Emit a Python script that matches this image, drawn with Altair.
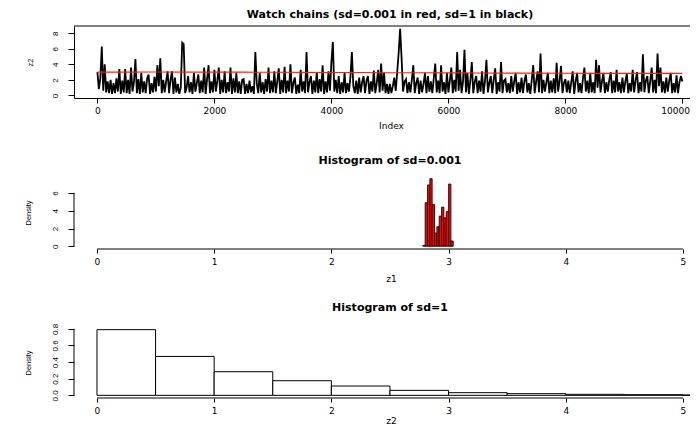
import altair as alt
import pandas as pd

# ---------------- data ----------------
trace_step = 25  # Index spacing of the sampled sd=1 chain values below
trace_z2 = [
    3.0, 0.8, 2.2, 6.3, 0.6, 4.0, 0.4, 1.8, 0.3, 2.0, 0.2, 1.6, 0.3, 2.2, 0.5, 3.4, 0.2, 1.9, 0.4, 3.4,
    0.3, 2.0, 0.2, 3.6, 0.5, 1.7, 4.7, 0.3, 2.1, 0.2, 2.9, 0.4, 1.8, 0.3, 2.2, 2.7, 0.2, 1.6, 0.4, 2.4,
    0.5, 3.9, 1.2, 4.8, 0.3, 2.0, 0.4, 1.8, 3.1, 0.3, 2.0, 3.1, 0.2, 2.3, 0.4, 1.5, 0.2, 1.0, 6.8, 6.6,
    0.3, 1.0, 2.5, 0.4, 1.7, 0.2, 2.9, 0.5, 1.6, 2.7, 0.3, 1.9, 0.4, 3.6, 0.2, 2.1, 3.9, 0.3, 1.8, 0.4,
    3.3, 0.5, 1.9, 3.6, 0.2, 2.0, 0.4, 3.1, 0.3, 1.7, 0.5, 3.6, 0.2, 2.2, 0.4, 2.9, 0.3, 1.8, 0.2, 2.0,
    2.1, 0.2, 1.5, 0.3, 1.9, 0.4, 1.2, 0.2, 5.6, 1.5, 0.3, 2.9, 0.4, 1.7, 0.2, 2.1, 0.5, 3.6, 0.3, 1.9,
    0.4, 3.1, 0.3, 1.8, 3.5, 0.2, 2.0, 0.4, 3.7, 0.3, 1.9, 0.5, 4.0, 0.3, 1.6, 2.3, 0.2, 1.4, 0.3, 3.3,
    0.5, 1.8, 0.3, 5.6, 0.4, 1.7, 2.5, 0.2, 1.9, 0.4, 3.0, 0.3, 2.1, 0.5, 3.9, 0.2, 1.8, 0.4, 3.1, 0.6,
    4.3, 6.9, 0.5, 2.0, 0.3, 2.5, 0.2, 1.7, 0.4, 2.9, 0.3, 1.6, 0.5, 2.4, 5.6, 1.2, 0.3, 1.9, 0.2, 2.3,
    0.4, 1.7, 2.5, 0.3, 1.9, 2.5, 0.2, 1.8, 0.5, 3.2, 0.3, 1.6, 3.3, 0.4, 4.1, 0.6, 2.9, 0.3, 1.5, 0.2,
    1.5, 0.3, 1.2, 2.3, 0.6, 3.0, 5.5, 8.6, 4.8, 0.5, 1.8, 2.1, 0.3, 1.7, 0.4, 2.0, 3.9, 0.3, 1.6, 2.3,
    0.2, 1.9, 0.4, 1.5, 2.9, 0.3, 2.5, 0.5, 1.8, 0.3, 2.2, 4.1, 0.4, 1.9, 0.3, 3.9, 0.5, 1.7, 0.2, 2.9,
    0.4, 1.9, 3.6, 0.3, 2.0, 0.5, 5.6, 0.6, 3.3, 0.3, 1.8, 5.9, 0.4, 2.9, 0.2, 1.9, 4.3, 0.3, 1.7, 2.5,
    0.3, 1.9, 0.5, 3.1, 0.2, 1.8, 4.6, 0.4, 1.6, 2.5, 0.3, 2.0, 3.5, 0.2, 1.7, 0.5, 4.3, 0.3, 1.9, 2.1,
    0.4, 1.6, 0.3, 2.5, 0.5, 1.8, 2.9, 0.2, 1.7, 0.4, 2.3, 0.3, 1.9, 2.7, 0.4, 1.6, 0.2, 2.0, 3.9, 0.3,
    1.8, 3.1, 0.4, 5.4, 0.3, 2.0, 0.5, 1.7, 2.9, 0.3, 1.9, 0.4, 2.2, 0.3, 4.2, 0.5, 1.8, 3.8, 0.3, 1.6,
    2.1, 0.4, 1.9, 0.3, 1.7, 3.1, 0.2, 1.8, 2.9, 0.4, 1.6, 0.3, 2.2, 3.6, 0.5, 1.9, 0.3, 2.9, 0.4, 1.7,
    0.3, 4.6, 1.0, 3.9, 0.4, 1.8, 2.9, 0.3, 1.7, 0.5, 2.0, 3.0, 0.3, 1.9, 0.4, 3.3, 0.5, 1.7, 0.3, 2.3,
    0.4, 1.8, 2.8, 0.3, 1.6, 0.5, 3.3, 0.4, 1.9, 3.0, 0.3, 1.7, 0.5, 5.3, 0.4, 1.9, 2.5, 0.3, 1.8, 3.6,
    0.4, 2.0, 0.3, 5.4, 1.2, 3.6, 0.4, 1.8, 0.3, 2.3, 0.5, 1.9, 2.9, 0.3, 1.6, 0.4, 2.6, 0.3, 1.7, 2.5,
    1.8,
]
red_index = [0, 500, 1000, 1500, 2000, 2500, 3000, 3500, 4000, 4500, 5000,
             5500, 6000, 6500, 7000, 7500, 8000, 8500, 9000, 9500, 10000]
red_z1 = [3.00, 3.01, 3.02, 3.01, 3.00, 3.00, 2.99, 2.97, 2.96, 2.95, 2.93,
          2.92, 2.91, 2.90, 2.88, 2.87, 2.86, 2.85, 2.84, 2.84, 2.85]

hist1_start = [2.78, 2.80, 2.82, 2.84, 2.86, 2.88, 2.90, 2.92, 2.94, 2.96, 2.98, 3.00, 3.02]
hist1_density = [0.1, 4.9, 6.9, 7.6, 4.7, 1.5, 2.2, 3.4, 4.4, 3.2, 3.9, 7.0, 0.6]
hist1_binwidth = 0.02

hist2_start = [0.0, 0.5, 1.0, 1.5, 2.0, 2.5, 3.0, 3.5, 4.0, 4.5, 5.0]
hist2_density = [0.79, 0.468, 0.284, 0.176, 0.112, 0.06, 0.032, 0.02, 0.012, 0.008, 0.004]
hist2_binwidth = 0.5

index_ticks = [0, 2000, 4000, 6000, 8000, 10000]
z2_ticks = [0, 2, 4, 6, 8]
z_ticks = [0, 1, 2, 3, 4, 5]
dens1_ticks = [0, 2, 4, 6]
dens2_ticks = [0.0, 0.2, 0.4, 0.6, 0.8]

# ---------------- tables ----------------
df_trace = pd.DataFrame({"Index": [i * trace_step for i in range(len(trace_z2))], "z2": trace_z2})
df_red = pd.DataFrame({"Index": red_index, "z1": red_z1})
df_h1 = pd.DataFrame({"start": hist1_start,
                      "end": [s + hist1_binwidth for s in hist1_start],
                      "density": hist1_density})
df_h2 = pd.DataFrame({"start": hist2_start,
                      "end": [s + hist2_binwidth for s in hist2_start],
                      "density": hist2_density})
df_one = pd.DataFrame({"a": [0]})

# ---------------- layout constants ----------------
W = 616
H1, H2, H3 = 72, 73, 71
HFONT = "DejaVu Sans"
VFONT = "Liberation Sans"

xs_trace = alt.Scale(domain=[-400, 10130], nice=False, zero=False)
xs_hist = alt.Scale(domain=[-0.196, 5.06], nice=False, zero=False)
ys_trace = alt.Scale(domain=[-0.33, 8.95], nice=False, zero=False)
ys_h1 = alt.Scale(domain=[-0.304, 7.904], nice=False, zero=False)
ys_h2 = alt.Scale(domain=[-0.032, 0.822], nice=False, zero=False)

last_index = max(index_ticks)


def x_axis(values, title, tick, domain, fmt="d", title_y=28, label_pad=7,
           align="center", offset=0):
    return alt.Axis(values=values, tickCount=len(values), format=fmt, title=title,
                    domain=domain, domainColor="black", domainWidth=1,
                    ticks=True, tickSize=tick, tickColor="black", tickWidth=1,
                    labelFont=HFONT, labelFontSize=9, labelColor="black",
                    labelBaseline="middle", labelPadding=label_pad,
                    labelAlign=align, labelOffset=offset,
                    labelFlush=False, labelOverlap=False,
                    titleFont=HFONT, titleFontSize=9, titleFontWeight="normal",
                    titleColor="black", titleX=317, titleY=title_y,
                    titleAlign="center", titleBaseline="middle", grid=False)


def y_axis(values, title, domain, height, fmt="d", title_x=-44):
    return alt.Axis(values=values, tickCount=len(values), format=fmt, title=title,
                    domain=domain, domainColor="black", domainWidth=1,
                    ticks=True, tickSize=6, tickColor="black", tickWidth=1,
                    labelFont=VFONT, labelFontSize=8, labelColor="black",
                    labelAngle=270, labelAlign="center", labelBaseline="middle",
                    labelPadding=13, labelOverlap=False, labelFlush=False,
                    titleFont=VFONT, titleFontSize=7.5, titleFontWeight="normal",
                    titleColor="black", titleAngle=270, titleX=title_x,
                    titleY=height / 2, titleAlign="center", titleBaseline="middle",
                    grid=False)


def panel_title(text, offset):
    return alt.TitleParams(text, font=HFONT, fontSize=11, fontWeight="bold",
                           color="black", anchor="middle", offset=offset, dx=8)


# ---------------- panel 1: trace ----------------
is_last = f"datum.value == {last_index}"
black = alt.Chart(df_trace).mark_line(color="black", strokeWidth=1.8, clip=True).encode(
    x=alt.X("Index:Q", scale=xs_trace,
            axis=x_axis(index_ticks, "Index", 5, True, title_y=27, label_pad=7,
                        align=alt.condition(is_last, alt.value("right"), alt.value("center")),
                        offset=alt.condition(is_last, alt.value(7), alt.value(0)))),
    y=alt.Y("z2:Q", scale=ys_trace, axis=y_axis(z2_ticks, "z2", True, H1, title_x=-44)),
)
red = alt.Chart(df_red).mark_line(color="#FF2200", strokeWidth=1.1, clip=True).encode(
    x=alt.X("Index:Q", scale=xs_trace),
    y=alt.Y("z1:Q", scale=ys_trace),
)
top_border = alt.Chart(df_one).mark_rule(color="black", strokeWidth=1).encode(y=alt.value(0))
p1 = alt.layer(black, red, top_border).properties(
    width=W, height=H1, title=panel_title("Watch chains (sd=0.001 in red, sd=1 in black)", 6))

# ---------------- panel 2: histogram sd=0.001 ----------------
bars1 = alt.Chart(df_h1).mark_rect(fill="#FF0000", stroke="black", strokeWidth=0.8, clip=True).encode(
    x=alt.X("start:Q", scale=xs_hist,
            axis=x_axis(z_ticks, "z1", 4, False, title_y=29, label_pad=8)),
    x2="end:Q",
    y=alt.Y("density:Q", scale=ys_h1,
            axis=y_axis(dens1_ticks, "Density", False, H2, title_x=-46)),
    y2=alt.datum(0),
)
xline1 = alt.Chart(df_one).mark_rule(color="black").encode(
    x=alt.datum(min(z_ticks)), x2=alt.datum(max(z_ticks)), y=alt.value(H2))
yline1 = alt.Chart(df_one).mark_rule(color="black").encode(
    x=alt.value(0), y=alt.datum(min(dens1_ticks)), y2=alt.datum(max(dens1_ticks)))
p2 = alt.layer(bars1, xline1, yline1).properties(
    width=W, height=H2, title=panel_title("Histogram of sd=0.001", 10))

# ---------------- panel 3: histogram sd=1 ----------------
bars2 = alt.Chart(df_h2).mark_rect(fill="white", stroke="black", strokeWidth=1, clip=True).encode(
    x=alt.X("start:Q", scale=xs_hist,
            axis=x_axis(z_ticks, "z2", 4, False, title_y=22, label_pad=8)),
    x2="end:Q",
    y=alt.Y("density:Q", scale=ys_h2,
            axis=y_axis(dens2_ticks, "Density", False, H3, fmt=".1f", title_x=-46)),
    y2=alt.datum(0),
)
xline2 = alt.Chart(df_one).mark_rule(color="black").encode(
    x=alt.datum(min(z_ticks)), x2=alt.datum(max(z_ticks)), y=alt.value(H3))
yline2 = alt.Chart(df_one).mark_rule(color="black").encode(
    x=alt.value(0), y=alt.datum(min(dens2_ticks)), y2=alt.datum(max(dens2_ticks)))
p3 = alt.layer(bars2, xline2, yline2).properties(
    width=W, height=H3, title=panel_title("Histogram of sd=1", 10))

chart = alt.vconcat(p1, p2, p3, spacing=78, bounds="flush").properties(
    padding={"left": 16, "top": 0, "right": -1, "bottom": 0},
    background="white",
).configure_view(stroke=None)

chart.save("out.html", embed_options={"renderer": "svg", "actions": False})
